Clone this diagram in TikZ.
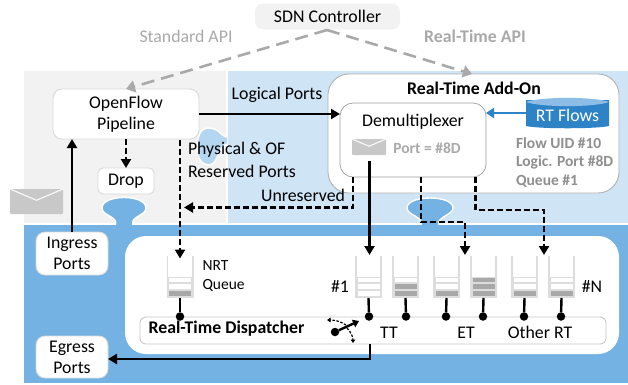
\documentclass[tikz,border=0pt]{standalone}
\usepackage{fontspec}
\setmainfont{Carlito}
\usetikzlibrary{arrows.meta,calc}
\definecolor{bgGray}{HTML}{F2F2F2}
\definecolor{bgLight}{HTML}{CFE4F5}
\definecolor{bgDark}{HTML}{73B2E3}
\definecolor{blobLight}{HTML}{B4D6F0}
\definecolor{flowBlue}{HTML}{2E83C6}
\definecolor{flowTop}{HTML}{8DBDE6}
\definecolor{apiGray}{HTML}{A9A9A9}
\definecolor{noteGray}{HTML}{8F8F8F}
\definecolor{envGray}{HTML}{C8C8C8}
\definecolor{qGray}{HTML}{DDDDDD}
\definecolor{qFill}{HTML}{A8A8A8}
\tikzset{
  x=1pt,y=-1pt,
  lbl/.style={font=\fontsize{17.8}{21}\selectfont,inner sep=0pt,outer sep=0pt,text=black},
  lblb/.style={lbl,font=\fontsize{17.8}{21}\selectfont\bfseries},
  grey/.style={lbl,text=apiGray},
  greyb/.style={lblb,text=apiGray},
  note/.style={lblb,text=noteGray,font=\fontsize{15.5}{18}\selectfont\bfseries},
  box/.style={rectangle,rounded corners=#1,fill=white,draw=black!15,line width=.9pt,inner sep=0pt,outer sep=0pt,align=center,font=\fontsize{17.8}{21}\selectfont},
  box/.default=9pt,
  conn/.style={line width=2.4pt,draw=black,-{Triangle[length=9pt,width=10pt]}},
  connd/.style={conn,dash pattern=on 6pt off 3pt},
  api/.style={line width=2.6pt,draw=apiGray,dash pattern=on 13pt off 7pt,-{Triangle[length=9pt,width=12pt]}},
  stem/.style={line width=2.4pt,draw=black},
  dot/.style={circle,fill=black,inner sep=0pt,outer sep=0pt,minimum size=8.5pt},
  blobline/.style={draw=white,line width=1.4pt},
}
\newcommand{\envelope}[5]{% name, cx, cy, w, h
  \node[rectangle,fill=envGray,inner sep=0pt,outer sep=0pt,minimum width=#4pt,minimum height=#5pt,rounded corners=1pt] (#1) at (#2,#3) {};
  \draw[white!85!envGray,line width=1.2pt] (#1.north west) -- ($(#1.center)+(0,-.05*#5)$) -- (#1.north east);
}
\newcommand{\qbar}[3]{% cx, cy, colour
  \fill[#3] (#1-11,#2-2.4) rectangle (#1+11,#2+2.4);
}
\newcommand{\queueicon}[5]{% name, cx, top, mid, bottom
  \node[rectangle,inner sep=0pt,outer sep=0pt,minimum width=27pt,minimum height=42pt] (#1) at (#2,277) {};
  \fill[white] (#2-13,256) rectangle (#2+13,297);
  \fill[qGray] (#2-12,276.8) rectangle (#2+12,297);
  \qbar{#2}{280}{#3}
  \qbar{#2}{286.8}{#4}
  \qbar{#2}{293.4}{#5}
  \draw[qGray,line width=1.8pt] (#2-12.6,256) -- (#2-12.6,297.4) -- (#2+12.6,297.4) -- (#2+12.6,256);
}
\begin{document}
\begin{tikzpicture}
\useasboundingbox (0,0) rectangle (628,384);
% regions
\fill[bgGray] (24,70.5) rectangle (226,223);
\fill[bgLight] (227.5,70.5) rectangle (628,223);
\fill[bgDark] (24,225) rectangle (628,383);
% connecting bumps
\path[fill=blobLight,blobline] (227,137) .. controls (221,137) and (220,128) .. (208,128) .. controls (200,128) and (197,138) .. (197,148) .. controls (197,158) and (202,165) .. (209,165) .. controls (218,165) and (218,146) .. (227,144);
\path[fill=bgDark,blobline] (115.5,225) .. controls (118,216) and (102,216) .. (102,208) .. controls (102,201) and (113,197.5) .. (124,197.5) .. controls (135,197.5) and (146,201) .. (146,208) .. controls (146,216) and (130,216) .. (133,225);
\path[fill=bgDark,blobline] (421,225) .. controls (424,217) and (407,215) .. (407,208) .. controls (407,201) and (419,198) .. (430,198) .. controls (441,198) and (453,201) .. (453,208) .. controls (453,215) and (436,217) .. (439,225);
\fill[bgDark] (117,222) rectangle (132,226);
\fill[bgDark] (422.5,222) rectangle (438,226);
% main boxes
\node[box=8pt,fill=bgGray,draw=none,minimum width=145pt,minimum height=26pt] (sdn) at (327.5,16.5) {SDN Controller};
\node[box,minimum width=146pt,minimum height=50pt] (ofp) at (126,114) {OpenFlow\\Pipeline};
\node[box=5pt,minimum width=56pt,minimum height=26pt] (drop) at (126,181) {Drop};
\envelope{msg}{36.5}{201.5}{53}{25}
\node[box,minimum width=72pt,minimum height=43pt] (ingress) at (72,253.5) {Ingress\\Ports};
\node[box,minimum width=72pt,minimum height=42pt] (egress) at (72,357) {Egress\\Ports};
\node[box=21pt,draw=black!30,minimum width=291pt,minimum height=119pt] (addon) at (473.5,133.5) {};
\node[box=21pt,draw=none,minimum width=494pt,minimum height=118pt] (dispatchzone) at (372,295) {};
\node[box=6pt,draw=black!22,minimum width=466pt,minimum height=27pt] (dispatcher) at (373,330.5) {};
\node[box=13pt,draw=black!38,line width=.7pt,minimum width=146pt,minimum height=74pt] (demux) at (413,140) {};
% texts
\node[grey] (tstd) at (186,36) {Standard API};
\node[greyb] (trt) at (475,36) {Real-Time API};
\node[lblb] (taddon) at (474,88) {Real-Time Add-On};
\node[lbl] (tdemux) at (413,122) {Demultiplexer};
\envelope{msgb}{369}{147}{34}{16}
\node[note,text=apiGray] (tport) at (427,148) {Port = \#8D};
\node[note,anchor=west] (tuid) at (516,143) {Flow UID \#10};
\node[note,anchor=west] (tlog) at (516,162) {Logic. Port \#8D};
\node[note,anchor=west] (tq) at (516,181) {Queue \#1};
\node[lbl] (tlogical) at (277,95) {Logical Ports};
\node[lbl,anchor=west] (tphys) at (188,150) {Physical \& OF};
\node[lbl,anchor=west] (tres) at (188,171) {Reserved Ports};
\node[lbl] (tunres) at (303,195) {Unreserved};
\node[lbl,font=\fontsize{15.5}{18}\selectfont,anchor=west] (tnrt) at (202.5,266) {NRT};
\node[lbl,font=\fontsize{15.5}{18}\selectfont,anchor=west] (tnrtq) at (202.5,285) {Queue};
\node[lbl] (tone) at (340,286) {\#1};
\node[lbl] (tn) at (592,286) {\#N};
\node[lblb] (tdisp) at (226.5,329) {Real-Time Dispatcher};
\node[lbl] (ttt) at (389,332.5) {TT};
\node[lbl] (tet) at (466,332.5) {ET};
\node[lbl] (tother) at (540,332.5) {Other RT};
% RT flows store
\node[rectangle,inner sep=0pt,outer sep=0pt,minimum width=83pt,minimum height=26pt] (flows) at (567.5,113) {};
\fill[flowBlue] (flows.north west) -- (flows.south west) .. controls +(12,3) and +(-12,3) .. (flows.south east) -- (flows.north east) -- cycle;
\fill[flowTop] ($(flows.north west)+(0,2)$) .. controls +(15,-5.5) and +(-15,-5.5) .. ($(flows.north east)+(0,2)$) .. controls +(-15,5.5) and +(15,5.5) .. ($(flows.north west)+(0,2)$);
\node[lbl,text=white] (tflows) at (567.5,115) {RT Flows};
% queues
\queueicon{qnrt}{180}{white}{white}{qFill}
\queueicon{qa}{368.5}{white}{white}{white}
\queueicon{qb}{405.5}{white}{qFill}{qFill}
\queueicon{qc}{446.5}{white}{white}{qFill}
\queueicon{qd}{483.5}{qFill}{qFill}{qFill}
\queueicon{qe}{524.5}{white}{white}{qFill}
\queueicon{qf}{561.5}{white}{white}{qFill}
% dots and stems
\foreach \q/\x in {qnrt/180,qa/369,qb/406,qc/446,qd/483,qe/524,qf/561}{
  \node[dot] (d\q) at (\x,316.5) {};
  \draw[stem] (\q.south) -- (d\q);
}
% connectors
\coordinate (apistart) at (327,30);
\draw[api] (apistart) -- (ofp.north);
\draw[api] (apistart) -- (472,74);
\draw[conn] (ofp.east) -- (ofp.east -| demux.west);
\draw[conn] (ingress.north) -- (ingress.north |- ofp.south);
\draw[connd] (ofp.south) -- (drop.north);
\coordinate (phys) at (180,140);
\coordinate (nrtin) at (180,258.5);
\draw[connd] (phys) -- (nrtin);
\coordinate (unres) at (353,177);
\coordinate (unresend) at (184,207.5);
\draw[connd] (unres) |- (unresend);
\coordinate (firstout) at (369.5,161);
\coordinate (firstin) at (369.5,255);
\draw[conn] (firstout) -- (firstin);
\coordinate (etout) at (421,177);
\coordinate (etin) at (465,255);
\draw[connd] (etout) -- (421,222) -| (etin);
\coordinate (rtout) at (475.5,177);
\coordinate (rtin) at (544,255);
\draw[connd] (rtout) -- (475.5,210) -| (rtin);
\coordinate (egout) at (370,344);
\draw[conn] (egout) |- ([yshift=-2pt]egress.east);
\draw[flowBlue,line width=2.4pt,-{Triangle[length=8pt,width=10pt]}] (flows.west) -- (flows.west -| demux.east);
% switch icon
\node[dot] (swc) at (335,332) {};
\coordinate (swa) at (359,321);
\coordinate (swb) at (327,320);
\coordinate (swd) at (353,343);
\draw[line width=2.4pt,-{Triangle[length=6pt,width=8pt]}] (swc) -- (swa);
\draw[line width=1.2pt,dash pattern=on 2.5pt off 1.5pt,-{Triangle[length=3.5pt,width=4.5pt]}] (346,325) .. controls (340,321) and (334,320) .. (swb);
\draw[line width=1.2pt,dash pattern=on 2.5pt off 1.5pt,-{Triangle[length=3.5pt,width=4.5pt]}] (347,328) .. controls (351,332) and (353,337) .. (swd);
\end{tikzpicture}
\end{document}
